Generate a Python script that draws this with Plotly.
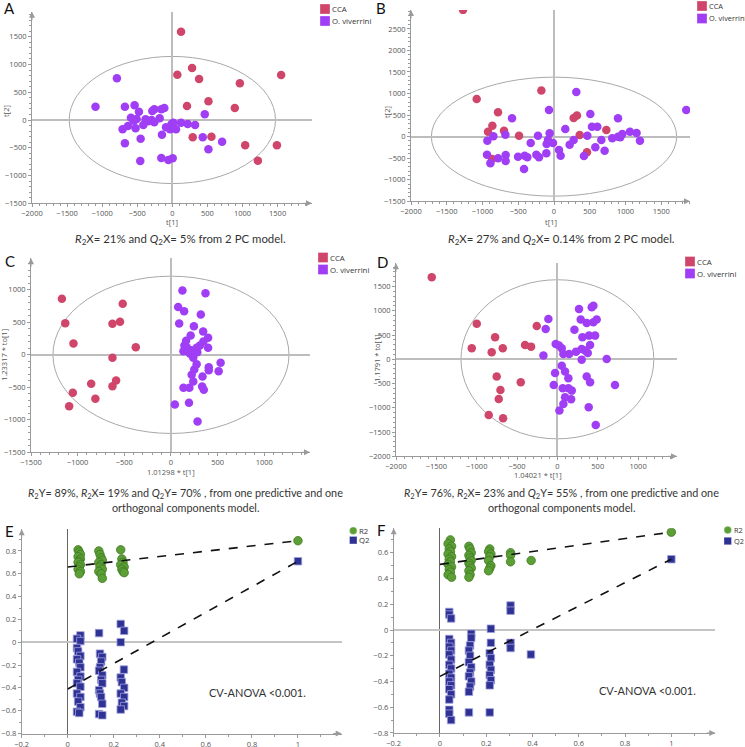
import plotly.graph_objects as go

W, H = 745, 747

# ---- data ----
a_cca_x = [124, 71, 281, 381, 1550, 962, 514, 209, 890, 290, 557, 1038, 1490, 1219]
a_cca_y = [1590, 816, 936, 738, 810, 660, 336, 252, 216, -312, -300, -456, -456, -732]
a_ov_x = [-790, -1095, -676, -538, -476, -590, -509, -381, -295, -257, -286, -157, -114, -181,
          -257, -633, -709, -524, -676, -452, -457, -148, -157, -57, 5, -90, -10, 52, -33, 124,
          219, 324, 462, 433, 514, 709, 14, -547, -414, -343]
a_ov_y = [750, 240, 240, 264, 150, 42, 18, 12, 0, 192, 162, 192, 216, 30,
          -42, -108, -168, -150, -420, -336, -738, -264, -684, -720, -690, -132, -72, -168, -168, -48,
          -72, -90, 102, -312, -528, -390, -48, -12, -90, -24]

b_cca_x = [-1272, -1081, -177, -783, -862, -923, -699, -489, 275, 321, 359, 732, 461, -867]
b_cca_y = [2941, 875, 1068, 565, 255, 116, 139, 23, 433, 488, 39, 155, -364, -519]
b_ov_x = [312, -70, -587, 508, 895, 531, 606, 158, -61, -224, -680, -848, -932, -326, -103, -14,
          -84, 275, 219, 466, 662, 815, 895, 927, 955, 1062, 1155, 1202, 578, 708, 419, 70, 93,
          -107, -210, -247, -373, -503, -410, -419, -937, -890, -783, -676, -676, 1850]
b_ov_y = [1037, 619, 426, 526, 426, 232, 232, 178, 77, 23, 46, 8, -93, -147, -170, -147,
          -77, -77, -186, 23, -77, -39, 0, -15, 62, 116, 85, -93, -248, -325, -449, -310, -441,
          -387, -480, -418, -480, -464, -441, -751, -418, -619, -503, -565, -426, 619]

c_cca_x = [-1169, -1133, -1045, -517, -546, -627, -377, -627, -588, -627, -855, -810, -1052, -1091]
c_cca_y = [862, 487, 174, 785, 508, 477, 118, -46, -395, -482, -446, -677, -585, -790]
c_ov_x = [123, 370, 77, 141, 320, 88, 246, 345, 211, 398, 162, 348, 144, 398, 275, 134, 218, 282,
          239, 275, 532, 405, 405, 511, 250, 222, 338, 239, 134, 197, 334, 352, 193, 42, 285,
          169, 310, 204]
c_ov_y = [990, 949, 734, 672, 621, 482, 441, 359, 298, 262, 215, 205, 144, 108, 108, 56, 72, 41,
          -46, -144, -123, -190, -236, -251, -226, -308, -333, -410, -508, -508, -487, -539, -739,
          -764, -1026, 118, 144, 15]

d_cca_x = [-1557, -999, -1061, -772, -814, -677, -401, -326, -256, -752, -454, -706, -727, -851, -673]
d_cca_y = [1690, 735, 227, 453, 144, 227, 295, 261, 687, -357, -474, -632, -818, -1147, -1216]
d_ov_x = [-112, -145, -173, -21, 54, 74, 145, 211, 268, 289, 363, 446, 425, 446, 487, 310, 392,
          467, 405, 231, 301, 376, 343, 301, 611, 54, 95, -29, 136, -45, 66, 136, 178, 95, 74,
          170, 25, 363, 405, 388, 714, 475, 20]
d_ov_y = [831, 625, 76, 316, 227, 110, 110, 611, 1037, 818, 749, 1106, 1072, 763, 818, 453, 488,
          488, 295, 158, 213, 131, 179, -7, 7, -131, -254, -282, -392, -529, -598, -598, -646,
          -783, -920, -824, -1058, -357, -474, -989, -529, -1353, 282]

# permutation tests
e_r2_x = [0.045, 0.05, 0.055, 0.045, 0.055, 0.05, 0.045, 0.055, 0.05, 0.045, 0.055, 0.05,
          0.135, 0.14, 0.145, 0.15, 0.135, 0.145, 0.14, 0.15, 0.135, 0.145, 0.15,
          0.23, 0.235, 0.24, 0.23, 0.245, 0.235, 0.24, 0.245, 1.0]
e_r2_y = [0.81, 0.79, 0.77, 0.75, 0.73, 0.71, 0.70, 0.68, 0.66, 0.64, 0.62, 0.60,
          0.80, 0.77, 0.74, 0.72, 0.70, 0.68, 0.66, 0.64, 0.62, 0.60, 0.56,
          0.81, 0.73, 0.70, 0.68, 0.66, 0.64, 0.62, 0.61, 0.89]
e_q2_x = [0.055, 0.04, 0.055, 0.04, 0.045, 0.055, 0.04, 0.05, 0.055, 0.04, 0.055, 0.045, 0.04,
          0.055, 0.04, 0.055, 0.045, 0.055, 0.04, 0.05,
          0.136, 0.14, 0.15, 0.145, 0.14, 0.136, 0.15, 0.145, 0.15, 0.136, 0.14, 0.145, 0.15, 0.136, 0.15,
          0.23, 0.245, 0.23, 0.244, 0.23, 0.235, 0.245, 0.23, 0.245, 0.235, 0.245, 0.23,
          1.0]
e_q2_y = [0.06, 0.03, 0.01, -0.05, -0.08, -0.12, -0.15, -0.18, -0.22, -0.26, -0.30, -0.33, -0.36,
          -0.39, -0.45, -0.48, -0.52, -0.57, -0.61, -0.62,
          0.08, -0.10, -0.13, -0.17, -0.22, -0.25, -0.29, -0.33, -0.36, -0.42, -0.45, -0.48, -0.54, -0.63, -0.64,
          0.16, 0.10, 0.00, -0.24, -0.31, -0.35, -0.40, -0.45, -0.48, -0.53, -0.56, -0.59,
          0.71]
e_fit_x = [0, 1]
e_r2_fit = [0.66, 0.89]
e_q2_fit = [-0.41, 0.71]

f_r2_x = [0.045, 0.035, 0.05, 0.04, 0.045, 0.035, 0.05, 0.04, 0.045, 0.035, 0.05, 0.04, 0.045, 0.035, 0.05,
          0.125, 0.13, 0.135, 0.125, 0.13, 0.135, 0.125, 0.13, 0.135, 0.125, 0.13, 0.125,
          0.215, 0.21, 0.22, 0.215, 0.21, 0.22, 0.215, 0.21,
          0.305, 0.305, 0.305, 0.394, 1.0]
f_r2_y = [0.70, 0.67, 0.65, 0.63, 0.61, 0.59, 0.57, 0.55, 0.53, 0.51, 0.49, 0.47, 0.45, 0.43, 0.41,
          0.65, 0.63, 0.60, 0.58, 0.56, 0.54, 0.52, 0.50, 0.48, 0.46, 0.43, 0.41,
          0.63, 0.61, 0.59, 0.57, 0.54, 0.50, 0.48, 0.46,
          0.60, 0.58, 0.53, 0.54, 0.76]
f_q2_x = [0.04, 0.04, 0.048, 0.04, 0.048, 0.04, 0.048, 0.04, 0.048, 0.04, 0.048, 0.04, 0.048, 0.04,
          0.048, 0.04, 0.048, 0.04, 0.04, 0.04, 0.048,
          0.135, 0.135, 0.13, 0.125, 0.13, 0.125, 0.135, 0.13, 0.125, 0.135, 0.13, 0.125, 0.125,
          0.22, 0.22, 0.215, 0.22, 0.215, 0.22, 0.215, 0.22, 0.215, 0.215,
          0.305, 0.305, 0.305, 0.305, 0.393, 1.0]
f_q2_y = [0.14, 0.12, 0.09, -0.07, -0.10, -0.13, -0.16, -0.19, -0.23, -0.27, -0.30, -0.34, -0.37,
          -0.40, -0.43, -0.46, -0.50, -0.54, -0.62, -0.65, -0.70,
          -0.03, -0.06, -0.12, -0.16, -0.20, -0.25, -0.29, -0.33, -0.36, -0.40, -0.44, -0.48, -0.64,
          0.01, -0.10, -0.18, -0.22, -0.27, -0.31, -0.35, -0.39, -0.43, -0.64,
          0.19, 0.15, -0.10, -0.14, -0.19, 0.55]
f_fit_x = [0, 1]
f_r2_fit = [0.51, 0.76]
f_q2_fit = [-0.36, 0.55]

CCA = "#d0466a"
OV = "#a03ef6"
GREEN = "#5c9f36"
NAVY = "#2f3295"
AXIS = "#9a9a9a"
TXT = "#333333"


def px2x(x):
    return x / W


def px2y(y):
    return 1 - y / H


fig = go.Figure()

# panel boxes in pixels: (left, right, top, bottom), ranges
panels = [
    # id, box, xrange, yrange, dtick, minor, ellipse half-axes
    ("", (32, 312, 11.7, 203.3), [-2000, 1990], [-1500, 1950], 500, 100, (1470, 1145)),
    ("2", (411, 690, 10, 201.3), [-2000, 1902], [-1500, 2938], 500, 100, (1715, 1380)),
    ("3", (31, 310, 258.3, 452.3), [-1500, 1490], [-1500, 1485], 500, 100, (1265, 1210)),
    ("4", (396, 677, 263.3, 456.3), [-2000, 1482], [-2000, 1979], 500, 100, (1195, 1640)),
    ("5", (21.7, 341.7, 529.3, 733.5), [-0.2001, 1.19], [-0.8001, 0.99], 0.2, 0.1, None),
    ("6", (393.7, 715.3, 528.3, 733), [-0.2001, 1.19], [-0.8001, 0.79], 0.2, 0.1, None),
]

layout_axes = {}
shapes = []
annotations = []
for pid, (l, r, t, b), xr, yr, dt, mdt, ell in panels:
    perm = ell is None
    common = dict(
        showgrid=False, showline=True, linecolor=AXIS, linewidth=1, mirror=False,
        ticks="outside", ticklen=3, tickcolor=AXIS, tick0=0, dtick=dt,
        minor=dict(ticks="outside", ticklen=2, tickcolor=AXIS, dtick=mdt, showgrid=False),
        tickfont=dict(family="Open Sans", size=7.5, color="#555555"),
        zeroline=True, fixedrange=True, automargin=False,
    )
    layout_axes["xaxis" + pid] = dict(
        common, domain=[px2x(l), px2x(r)], range=xr, anchor="y" + pid,
        zerolinecolor="#666666" if perm else "#bdbdbd", zerolinewidth=1 if perm else 1.5,
    )
    layout_axes["yaxis" + pid] = dict(
        common, domain=[px2y(b), px2y(t)], range=yr, anchor="x" + pid,
        zerolinecolor="#c4c4c4" if perm else "#bdbdbd", zerolinewidth=2 if perm else 1.5,
    )
    xref, yref = "x" + pid, "y" + pid
    # axis arrows
    annotations.append(dict(x=xr[1], y=yr[0], xref=xref, yref=yref, ax=-10, ay=0, text="",
                            showarrow=True, arrowhead=2, arrowsize=1.2, arrowwidth=1, arrowcolor=AXIS))
    annotations.append(dict(x=xr[0], y=yr[1], xref=xref, yref=yref, ax=0, ay=10, text="",
                            showarrow=True, arrowhead=2, arrowsize=1.2, arrowwidth=1, arrowcolor=AXIS))
    if ell:
        shapes.append(dict(type="circle", xref=xref, yref=yref, x0=-ell[0], x1=ell[0],
                           y0=-ell[1], y1=ell[1], line=dict(color="#a8a8a8", width=1), layer="below"))

score_sets = [
    ("", a_cca_x, a_cca_y, a_ov_x, a_ov_y),
    ("2", b_cca_x, b_cca_y, b_ov_x, b_ov_y),
    ("3", c_cca_x, c_cca_y, c_ov_x, c_ov_y),
    ("4", d_cca_x, d_cca_y, d_ov_x, d_ov_y),
]
for pid, cx, cy, ox, oy in score_sets:
    fig.add_trace(go.Scatter(x=cx, y=cy, mode="markers", xaxis="x" + pid, yaxis="y" + pid,
                             marker=dict(size=8.5, color=CCA), name="CCA", showlegend=False))
    fig.add_trace(go.Scatter(x=ox, y=oy, mode="markers", xaxis="x" + pid, yaxis="y" + pid,
                             marker=dict(size=8.5, color=OV), name="O. viverrini", showlegend=False))

perm_sets = [
    ("5", e_r2_x, e_r2_y, e_q2_x, e_q2_y, e_fit_x, e_r2_fit, e_q2_fit),
    ("6", f_r2_x, f_r2_y, f_q2_x, f_q2_y, f_fit_x, f_r2_fit, f_q2_fit),
]
for pid, rx, ry, qx, qy, fx, rfit, qfit in perm_sets:
    fig.add_trace(go.Scatter(x=rx, y=ry, mode="markers", xaxis="x" + pid, yaxis="y" + pid,
                             marker=dict(size=8.5, color=GREEN, line=dict(color="#3f7a22", width=0.8)),
                             name="R2", showlegend=False))
    fig.add_trace(go.Scatter(x=qx, y=qy, mode="markers", xaxis="x" + pid, yaxis="y" + pid,
                             marker=dict(size=7.5, symbol="square", color=NAVY,
                                         line=dict(color="#a0a0dc", width=0.8)),
                             name="Q2", showlegend=False))
    for fit in (rfit, qfit):
        fig.add_trace(go.Scatter(x=fx, y=fit, mode="lines", xaxis="x" + pid, yaxis="y" + pid,
                                 line=dict(color="#111111", width=1.6, dash="dash"),
                                 showlegend=False, hoverinfo="skip"))

# hand-placed legends (small swatches right next to the labels, like the original)
def legend_block(x, y, items, size=10, gap=12, fsize=7.8):
    for i, (label, color, kind) in enumerate(items):
        yc = y + i * gap
        shapes.append(dict(type="rect" if kind == "sq" else "circle", xref="paper", yref="paper",
                           x0=px2x(x), x1=px2x(x + size), y0=px2y(yc + size / 2), y1=px2y(yc - size / 2),
                           fillcolor=color, line=dict(color="rgba(255,255,255,0.6)", width=0.5)))
        annotations.append(dict(x=px2x(x + size), y=px2y(yc), xref="paper", yref="paper",
                                text=label, showarrow=False, xanchor="left", yanchor="middle",
                                font=dict(family="Open Sans", size=fsize, color=TXT)))


groups = [("CCA", CCA, "sq"), ("O. viverrini", OV, "sq")]
legend_block(320, 9, groups)
legend_block(697, 6, groups, gap=12.5, fsize=7.4)
legend_block(318, 257.5, groups)
legend_block(685, 261.5, groups)
perm_items = [("R2", GREEN, "ci"), ("Q2", NAVY, "sq")]
legend_block(349.5, 530.7, perm_items, size=7.5, gap=9.5)
legend_block(724, 530, perm_items, size=7.5, gap=11, fsize=7.4)


def text(x, y, s, size=12, angle=0, family="Lato", anchor="center", color=TXT):
    annotations.append(dict(x=px2x(x), y=px2y(y), xref="paper", yref="paper", text=s,
                            showarrow=False, xanchor=anchor, yanchor="middle", textangle=angle,
                            font=dict(family=family, size=size, color=color)))


# panel letters
for letter, x, y in [("A", 2, 8), ("B", 374, 8), ("C", 3, 261), ("D", 375, 262),
                     ("E", 3, 531), ("F", 375, 530)]:
    text(x, y, letter, size=15, anchor="left", color="#111111")

# axis titles
ax_font = dict(size=7.5, family="Open Sans", color="#555555")
text(172, 222, "t[1]", **ax_font)
text(6, 111, "t[2]", angle=-90, **ax_font)
text(551, 222, "t[1]", **ax_font)
text(387, 112, "t[2]", angle=-90, **ax_font)
text(171, 471.5, "1.01298 * t[1]", **ax_font)
text(4, 355, "1.23317 * to[1]", angle=-90, **ax_font)
text(538, 475, "1.04021 * t[1]", **ax_font)
text(377, 358, "1.1791 * to[1]", angle=-90, **ax_font)

# captions
text(180, 239, "<i>R</i><sub>2</sub>X= 21% and <i>Q</i><sub>2</sub>X= 5% from 2 PC model.", size=11.4)
text(561, 239, "<i>R</i><sub>2</sub>X= 27% and <i>Q</i><sub>2</sub>X= 0.14% from 2 PC model.", size=11.4)
text(185, 493, "<i>R</i><sub>2</sub>Y= 89%, <i>R</i><sub>2</sub>X= 19% and <i>Q</i><sub>2</sub>Y= 70% , "
               "from one predictive and one", size=10.8)
text(185, 507, "orthogonal components model.", size=10.8)
text(561, 493, "<i>R</i><sub>2</sub>Y= 76%, <i>R</i><sub>2</sub>X= 23% and <i>Q</i><sub>2</sub>Y= 55% , "
               "from one predictive and one", size=10.8)
text(561, 507, "orthogonal components model.", size=10.8)

text(257, 692, "CV-ANOVA &lt;0.001.", size=11)
text(647, 690, "CV-ANOVA &lt;0.001.", size=11)

fig.update_layout(
    width=W, height=H,
    margin=dict(l=0, r=0, t=0, b=0),
    paper_bgcolor="white", plot_bgcolor="white",
    showlegend=False,
    shapes=shapes, annotations=annotations,
    **layout_axes,
)

# the page body has a default 8px margin; drop it so the figure sits at the window origin
fig.write_html("out.html", config={"displayModeBar": False},
               post_script="document.body.style.margin='0';")
